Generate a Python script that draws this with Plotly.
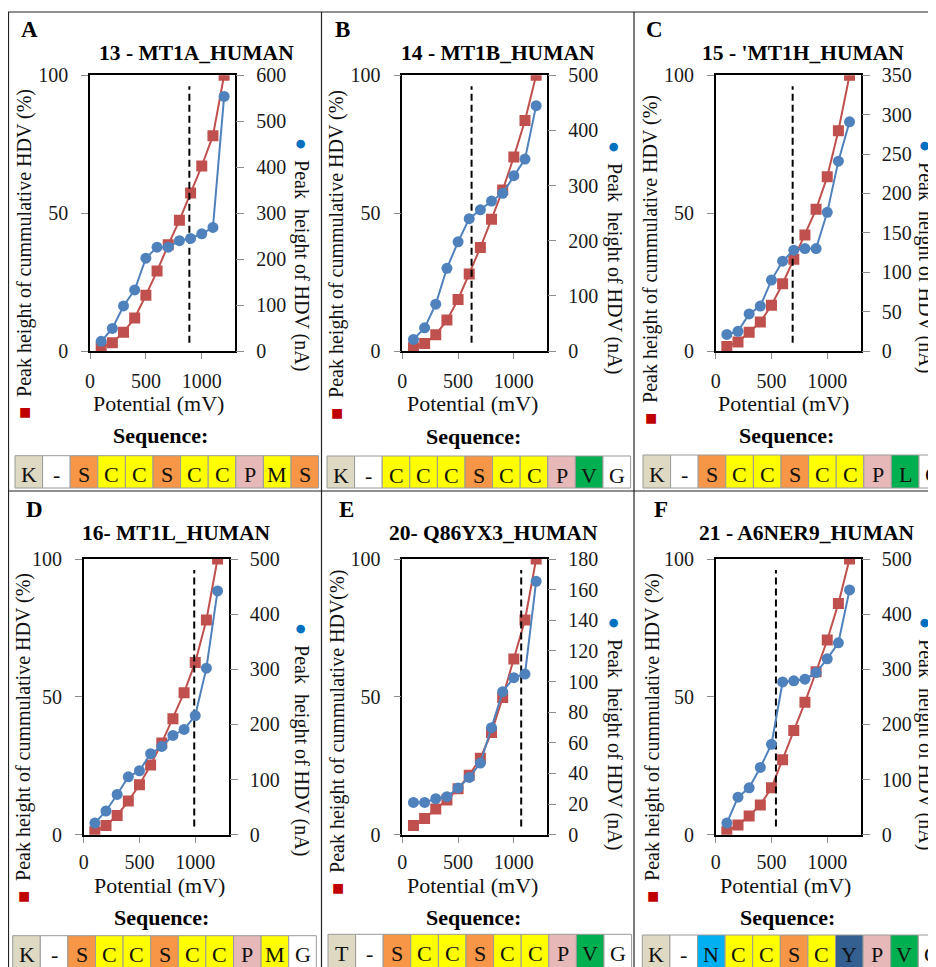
import plotly.graph_objects as go

W, H = 936, 967
OFF = 8  # page body margin of the rendered html
SERIF = "'Liberation Serif', 'Times New Roman', Times, serif"
RED = "#C0504D"
BLUE = "#4F81BD"
GRAY = "#8C8C8C"

# ---------------- data ----------------
potential = [100, 200, 300, 400, 500, 600, 700, 800, 900, 1000, 1100, 1200]

panel_letters = ["A", "B", "C", "D", "E", "F"]
panel_titles = ["13 - MT1A_HUMAN", "14 - MT1B_HUMAN", "15 - 'MT1H_HUMAN",
                "16- MT1L_HUMAN", "20- Q86YX3_HUMAN", "21 - A6NER9_HUMAN"]

# cumulative HDV peak height (%), left axis
cum_A = [1.2, 3.0, 6.8, 12.0, 20.2, 29.0, 38.5, 47.4, 57.3, 67.1, 78.1, 100]
cum_B = [1.2, 2.7, 5.9, 11.2, 18.7, 27.9, 37.5, 47.8, 58.4, 70.4, 83.6, 100]
cum_C = [1.6, 3.3, 6.8, 10.5, 16.6, 24.4, 33.3, 42.1, 51.4, 63.2, 79.9, 100]
cum_D = [1.1, 3.3, 7.0, 12.2, 18.1, 25.3, 33.3, 42.1, 51.5, 62.5, 77.9, 100]
cum_E = [3.3, 5.9, 9.3, 12.6, 16.7, 21.6, 27.7, 37.1, 49.8, 63.7, 77.9, 100]
cum_F = [1.1, 3.5, 6.8, 10.8, 17.0, 27.2, 37.8, 48.0, 59.1, 70.6, 83.9, 100]

# HDV peak height (nA), right axis
peak_A = [21, 49, 98, 133, 202, 226, 226, 240, 245, 255, 269, 554]
peak_B = [21, 42, 85, 150, 198, 240, 256, 272, 286, 318, 348, 445]
peak_C = [21, 25, 47, 57, 90, 114, 128, 130, 130, 176, 241, 291]
peak_D = [21, 43, 73, 105, 116, 147, 160, 180, 191, 216, 302, 442]
peak_E = [21.1, 21.1, 23.5, 24.8, 30.5, 37.4, 46.8, 69.9, 93.4, 102.5, 104.9, 165.4]
peak_F = [21, 68, 85, 122, 164, 277, 279, 282, 294, 319, 348, 444]

dash_potential = [889, 621, 690, 991, 1066, 540]
dash_span = [3, 96]

right_max = [600, 500, 350, 500, 180, 500]
right_step = [100, 100, 50, 100, 20, 100]

seq_A = ["K", "-", "S", "C", "C", "S", "C", "C", "P", "M", "S"]
seq_B = ["K", "-", "C", "C", "C", "S", "C", "C", "P", "V", "G"]
seq_C = ["K", "-", "S", "C", "C", "S", "C", "C", "P", "L", "G"]
seq_D = ["K", "-", "S", "C", "C", "S", "C", "C", "P", "M", "G"]
seq_E = ["T", "-", "S", "C", "C", "S", "C", "C", "P", "V", "G"]
seq_F = ["K", "-", "N", "C", "C", "S", "C", "Y", "P", "V", "G"]

left_titles = ["Peak height of cummulative HDV (%)"] * 4 + \
              ["Peak height of cummulative HDV(%)", "Peak height of cummulative HDV (%)"]
right_title = "Peak  height of HDV (nA)"

cums = [cum_A, cum_B, cum_C, cum_D, cum_E, cum_F]
peaks = [peak_A, peak_B, peak_C, peak_D, peak_E, peak_F]
seqs = [seq_A, seq_B, seq_C, seq_D, seq_E, seq_F]

residue_color = {"K": "#DDD9C3", "T": "#DDD9C3", "-": "#FFFFFF", "S": "#F79646",
                 "C": "#FFFF00", "M": "#FFFF00", "P": "#E6B8B7", "V": "#00B050",
                 "L": "#00B050", "G": "#FFFFFF", "N": "#00B0F0", "Y": "#335F91"}

# ---------------- layout geometry (screen pixels) ----------------
# plot boxes: left, right, top, bottom
boxes = [(90, 235.3, 75.3, 351), (402.3, 547.3, 75.3, 351), (715.7, 860.7, 75.3, 351),
         (83.7, 228.7, 559, 834.7), (402.3, 547.3, 559, 834.7), (715.7, 860.7, 559, 834.7)]
letter_pos = [(29.5, 29), (342, 29), (654.5, 29), (34.5, 509), (346, 509), (660.5, 509)]
title_pos = [(196, 53.5), (498, 53.5), (803, 53.5), (176, 533), (493, 533), (806, 533)]
ltitle_pos = [(24, 254), (336, 255), (650, 260), (23, 738), (337, 733), (652, 738)]
rtitle_pos = [(302, 254), (615, 257), (926, 256), (302, 739), (615, 733), (926, 733)]
xtitle_pos = [(158, 403), (472, 403), (783, 403), (159, 885), (472, 885), (785, 885)]
xtick_standoff = [5, 5, 5, 2, 2, 2]
seqlab_pos = [(160, 436), (473, 437), (786, 436), (161, 917), (473, 917), (787, 917)]
seq_box = [(15, 455.7, 488), (327, 456, 488), (643, 455, 488),
           (12.7, 935.7, 975), (328, 934.3, 975), (642.3, 935, 975)]
BOXW = 27.6


def px(x):
    return (x - OFF) / W


def py(y):
    return 1 - (y - OFF) / H


fig = go.Figure()
annotations = []
shapes = []
layout = {}


def note(x, y, text, size, **kw):
    d = dict(x=px(x), y=py(y), xref="paper", yref="paper", text=text, showarrow=False,
             font=dict(family=SERIF, size=size, color=kw.pop("color", "#111111")),
             xanchor="center", yanchor="middle")
    d.update(kw)
    annotations.append(d)


for i in range(6):
    n = i + 1
    xa = "x" if n == 1 else f"x{n}"
    yl = "y" if n == 1 else f"y{n}"
    yr = f"y{n + 6}"
    l, r, t, b = boxes[i]

    fig.add_trace(go.Scatter(
        x=potential, y=cums[i], xaxis=xa, yaxis=yl, mode="lines+markers",
        line=dict(color=RED, width=2),
        marker=dict(symbol="square", size=11, color=RED),
        showlegend=False, hoverinfo="x+y"))
    fig.add_trace(go.Scatter(
        x=[dash_potential[i]] * 2, y=dash_span, xaxis=xa, yaxis=yl, mode="lines",
        line=dict(color="black", width=2, dash="7px,4px"),
        showlegend=False, hoverinfo="skip"))
    fig.add_trace(go.Scatter(
        x=potential, y=peaks[i], xaxis=xa, yaxis=yr, mode="lines+markers",
        line=dict(color=BLUE, width=2),
        marker=dict(symbol="circle", size=11, color=BLUE),
        showlegend=False, hoverinfo="x+y"))

    tickfont = dict(family=SERIF, size=20, color="#1a1a1a")
    layout[f"xaxis{n}"] = dict(
        domain=[px(l), px(r)], anchor=yl, range=[0, 1300], tickvals=[0, 500, 1000],
        showline=True, linecolor="black", linewidth=1.6, mirror=True,
        ticks="outside", ticklen=6, tickcolor=GRAY, tickwidth=1,
        tickfont=tickfont, showgrid=False, zeroline=False,
        ticklabelstandoff=xtick_standoff[i])
    layout[f"yaxis{n}"] = dict(
        domain=[py(b), py(t)], anchor=xa, range=[0, 100], tickvals=[0, 50, 100],
        showline=True, linecolor="black", linewidth=1.6, mirror=True,
        ticks="outside", ticklen=7, tickcolor=GRAY, tickwidth=1,
        tickfont=tickfont, showgrid=False, zeroline=False, ticklabelstandoff=9)
    layout[f"yaxis{n + 6}"] = dict(
        overlaying=yl, side="right", anchor=xa, range=[0, right_max[i]],
        tick0=0, dtick=right_step[i], showline=False,
        ticks="outside", ticklen=8, tickcolor=GRAY, tickwidth=1,
        tickfont=tickfont, showgrid=False, zeroline=False, ticklabelstandoff=8)

    # texts
    note(*letter_pos[i], f"<b>{panel_letters[i]}</b>", 23, color="black")
    note(*title_pos[i], f"<b>{panel_titles[i]}</b>", 21.5, color="black")
    note(*ltitle_pos[i], f'<span style="color:#C00000">■</span>  {left_titles[i]}', 20, textangle=-90)
    note(*rtitle_pos[i], f'<span style="color:#0070C0">●</span>  {right_title}', 20, textangle=90)
    note(*xtitle_pos[i], "Potential (mV)", 22)
    note(*seqlab_pos[i], "<b>Sequence:</b>", 22, color="black")

    # sequence cells
    sx, sy0, sy1 = seq_box[i]
    for k, res in enumerate(seqs[i]):
        x0 = sx + k * BOXW
        shapes.append(dict(type="rect", xref="paper", yref="paper",
                           x0=px(x0), x1=px(x0 + BOXW), y0=py(sy1), y1=py(sy0),
                           fillcolor=residue_color[res], line=dict(color="#9A9A9A", width=1)))
        note(x0 + BOXW / 2, sy0 + 19, res, 22)

# panel frame lines
frame = dict(type="line", xref="paper", yref="paper", line=dict(color="#222222", width=1.2))
shapes.append({**frame, "x0": px(8), "x1": px(944), "y0": py(12), "y1": py(12)})
shapes.append({**frame, "x0": px(8), "x1": px(944), "y0": py(491), "y1": py(491)})
for vx in (8.5, 321.5, 634):
    shapes.append({**frame, "x0": px(vx), "x1": px(vx), "y0": py(12), "y1": py(975)})

fig.update_layout(
    width=W, height=H, margin=dict(l=0, r=0, t=0, b=0, autoexpand=False),
    paper_bgcolor="white", plot_bgcolor="white",
    annotations=annotations, shapes=shapes, showlegend=False,
    font=dict(family=SERIF, color="black"),
    **layout)

fig.write_html("out.html")
